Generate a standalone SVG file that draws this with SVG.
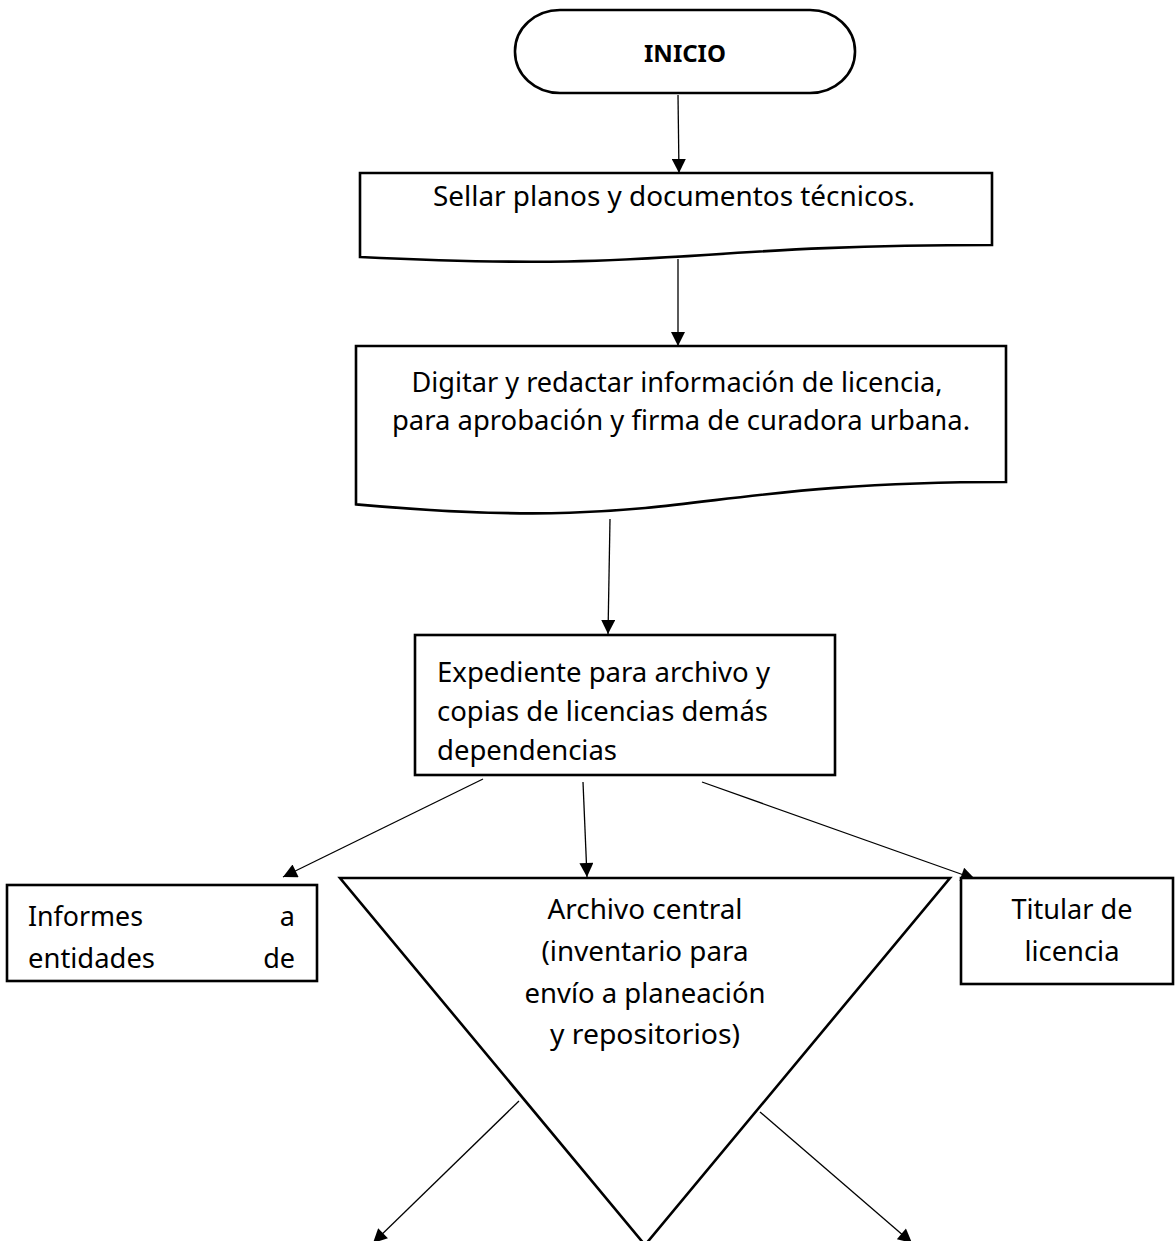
<svg xmlns="http://www.w3.org/2000/svg" width="1175" height="1241" viewBox="0 0 1175 1241">
  <defs>
    <marker id="arrow" viewBox="0 0 10 10" refX="10" refY="5" markerWidth="16" markerHeight="14" markerUnits="userSpaceOnUse" orient="auto">
      <path d="M0,0 L10,5 L0,10 z" fill="#000"/>
    </marker>
    <style>
      .shape { fill: #fff; stroke: #000; stroke-width: 2.6; stroke-linejoin: miter; }
      .link { fill: none; stroke: #000; stroke-width: 1.3; marker-end: url(#arrow); }
      .label { font-family: "Noto Sans", "Open Sans", sans-serif; font-size: 27px; fill: #000; }
      .bold { font-weight: bold; font-size: 24px; }
      .mid { text-anchor: middle; }
      .end { text-anchor: end; }
    </style>
  </defs>
  <rect width="1175" height="1241" fill="#fff"/>

  <!-- connectors -->
  <g id="connectors">
    <line class="link" x1="678" y1="95" x2="679" y2="173"/>
    <line class="link" x1="678" y1="259" x2="678" y2="346"/>
    <line class="link" x1="610" y1="519" x2="608" y2="634"/>
    <line class="link" x1="483" y1="779" x2="283" y2="877"/>
    <line class="link" x1="583" y1="782" x2="587" y2="877"/>
    <line class="link" x1="702" y1="782" x2="975" y2="879"/>
    <line class="link" x1="519" y1="1101" x2="373" y2="1243"/>
    <line class="link" x1="760" y1="1112" x2="912" y2="1243"/>
  </g>

  <!-- start terminal -->
  <g id="inicio">
    <rect class="shape" x="515" y="10" width="340" height="83" rx="45" ry="41"/>
    <text class="label bold mid" x="685" y="62">INICIO</text>
  </g>

  <!-- document: stamping -->
  <g id="sellar">
    <path class="shape" d="M360,173 H992 V245 C676,245 676,272.6 360,257 Z"/>
    <text class="label mid" x="674" y="206" textLength="482" lengthAdjust="spacingAndGlyphs">Sellar planos y documentos técnicos.</text>
  </g>

  <!-- document: licence drafting -->
  <g id="digitar">
    <path class="shape" d="M356,346 H1006 V482 C681,482 681,533.7 356,504.4 Z"/>
    <text class="label mid" x="677" y="392" textLength="531" lengthAdjust="spacingAndGlyphs">Digitar y redactar información de licencia,</text>
    <text class="label mid" x="681" y="430" textLength="578" lengthAdjust="spacingAndGlyphs">para aprobación y firma de curadora urbana.</text>
  </g>

  <!-- process: file and copies -->
  <g id="expediente">
    <rect class="shape" x="415" y="635" width="420" height="140"/>
    <text class="label" x="437" y="682" textLength="333" lengthAdjust="spacingAndGlyphs">Expediente para archivo y</text>
    <text class="label" x="437" y="721" textLength="331" lengthAdjust="spacingAndGlyphs">copias de licencias demás</text>
    <text class="label" x="437" y="760" textLength="180" lengthAdjust="spacingAndGlyphs">dependencias</text>
  </g>

  <!-- reports box (text clipped by the box) -->
  <g id="informes">
    <rect class="shape" x="7" y="885" width="310" height="96"/>
    <text class="label" x="28" y="926" textLength="115" lengthAdjust="spacingAndGlyphs">Informes</text>
    <text class="label end" x="295" y="926">a</text>
    <text class="label" x="28" y="968" textLength="127" lengthAdjust="spacingAndGlyphs">entidades</text>
    <text class="label end" x="295" y="968">de</text>
  </g>

  <!-- storage: central archive -->
  <g id="archivo">
    <polygon class="shape" points="340,878 950,878 645,1245"/>
    <text class="label mid" x="645" y="919" textLength="195" lengthAdjust="spacingAndGlyphs">Archivo central</text>
    <text class="label mid" x="645" y="961" textLength="207" lengthAdjust="spacingAndGlyphs">(inventario para</text>
    <text class="label mid" x="645" y="1003" textLength="241" lengthAdjust="spacingAndGlyphs">envío a planeación</text>
    <text class="label mid" x="645" y="1044" textLength="190" lengthAdjust="spacingAndGlyphs">y repositorios)</text>
  </g>

  <!-- licence holder -->
  <g id="titular">
    <rect class="shape" x="961" y="878" width="212" height="106"/>
    <text class="label mid" x="1072" y="919" textLength="121" lengthAdjust="spacingAndGlyphs">Titular de</text>
    <text class="label mid" x="1072" y="961" textLength="95" lengthAdjust="spacingAndGlyphs">licencia</text>
  </g>
</svg>
